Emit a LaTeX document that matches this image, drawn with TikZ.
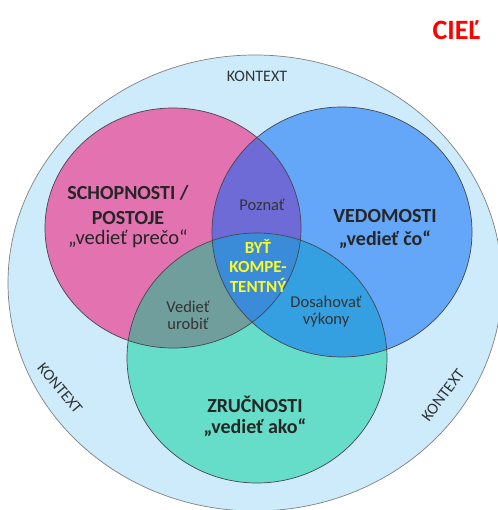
\documentclass[tikz,border=0pt]{standalone}
\usepackage{fontspec}
\setmainfont{Carlito}
\definecolor{kontextc}{RGB}{205,235,251}
\definecolor{pinkc}{RGB}{226,114,176}
\definecolor{bluec}{RGB}{100,166,247}
\definecolor{greenc}{RGB}{102,221,200}
\definecolor{pbc}{RGB}{110,106,214}
\definecolor{pgc}{RGB}{112,158,156}
\definecolor{bgc}{RGB}{52,160,226}
\definecolor{midc}{RGB}{58,140,216}
\definecolor{edgec}{RGB}{70,70,80}
\definecolor{yelc}{RGB}{250,250,40}
\newcommand{\pinkpath}{(173,228) ellipse [x radius=128, y radius=120]}
\newcommand{\bluepath}{(342,232) ellipse [x radius=130, y radius=125]}
\newcommand{\greenpath}{(257,358) ellipse [x radius=130, y radius=125]}
\tikzset{
  ring/.style={draw=edgec, line width=0.7pt},
  big/.style={font=\fontsize{20}{25}\selectfont\bfseries, align=center, text=black!85},
  quote/.style={font=\fontsize{20.5}{25}\selectfont, align=center, text=black!85},
  small/.style={font=\fontsize{16.5}{17}\selectfont, align=center, text=black!80},
  ctx/.style={font=\fontsize{16}{18}\selectfont, text=black!80}
}
\begin{document}
\begin{tikzpicture}[x=1pt,y=-1pt]
\useasboundingbox (0,0) rectangle (497,510);
\fill[white] (0,0) rectangle (497,510);

\draw[ring, draw=gray, fill=kontextc] (255,283) ellipse [x radius=247, y radius=228];

\fill[pinkc] \pinkpath;
\fill[bluec] \bluepath;
\fill[greenc] \greenpath;
\begin{scope}
  \clip \pinkpath;
  \fill[pbc] \bluepath;
  \fill[pgc] \greenpath;
\end{scope}
\begin{scope}
  \clip \bluepath;
  \fill[bgc] \greenpath;
\end{scope}
\begin{scope}
  \clip \pinkpath;
  \clip \bluepath;
  \fill[midc] \greenpath;
\end{scope}
\draw[ring] \pinkpath;
\draw[ring] \bluepath;
\draw[ring] \greenpath;

\node[ctx] (kontexttop) at (257,76) {KONTEXT};
\node[ctx, rotate=-50] (kontextleft) at (60,388) {KONTEXT};
\node[ctx, rotate=53] (kontextright) at (443,395) {KONTEXT};

\node[big] (schopnosti) at (128,205) {SCHOPNOSTI /\\POSTOJE};
\node[quote] (preco) at (128,239) {„vedieť prečo“};
\node[big] (vedomosti) at (385,216) {VEDOMOSTI};
\node[big] (co) at (385,240) {„vedieť čo“};
\node[big] (zrucnosti) at (255,404) {ZRUČNOSTI};
\node[big] (ako) at (255,428) {„vedieť ako“};

\node[small] (poznat) at (262,205) {Poznať};
\node[small] (urobit) at (188,315) {Vedieť\\urobiť};
\node[small] (vykony) at (326,312) {Dosahovať\\výkony};
\node[font=\fontsize{17}{19.5}\selectfont\bfseries, align=center, text=yelc] (kompetentny) at (258,266) {BYŤ\\KOMPE-\\TENTNÝ};

\node[font=\fontsize{28}{30}\selectfont\bfseries, text=red, anchor=west] (ciel) at (429,30) {CIEĽ};
\end{tikzpicture}
\end{document}
